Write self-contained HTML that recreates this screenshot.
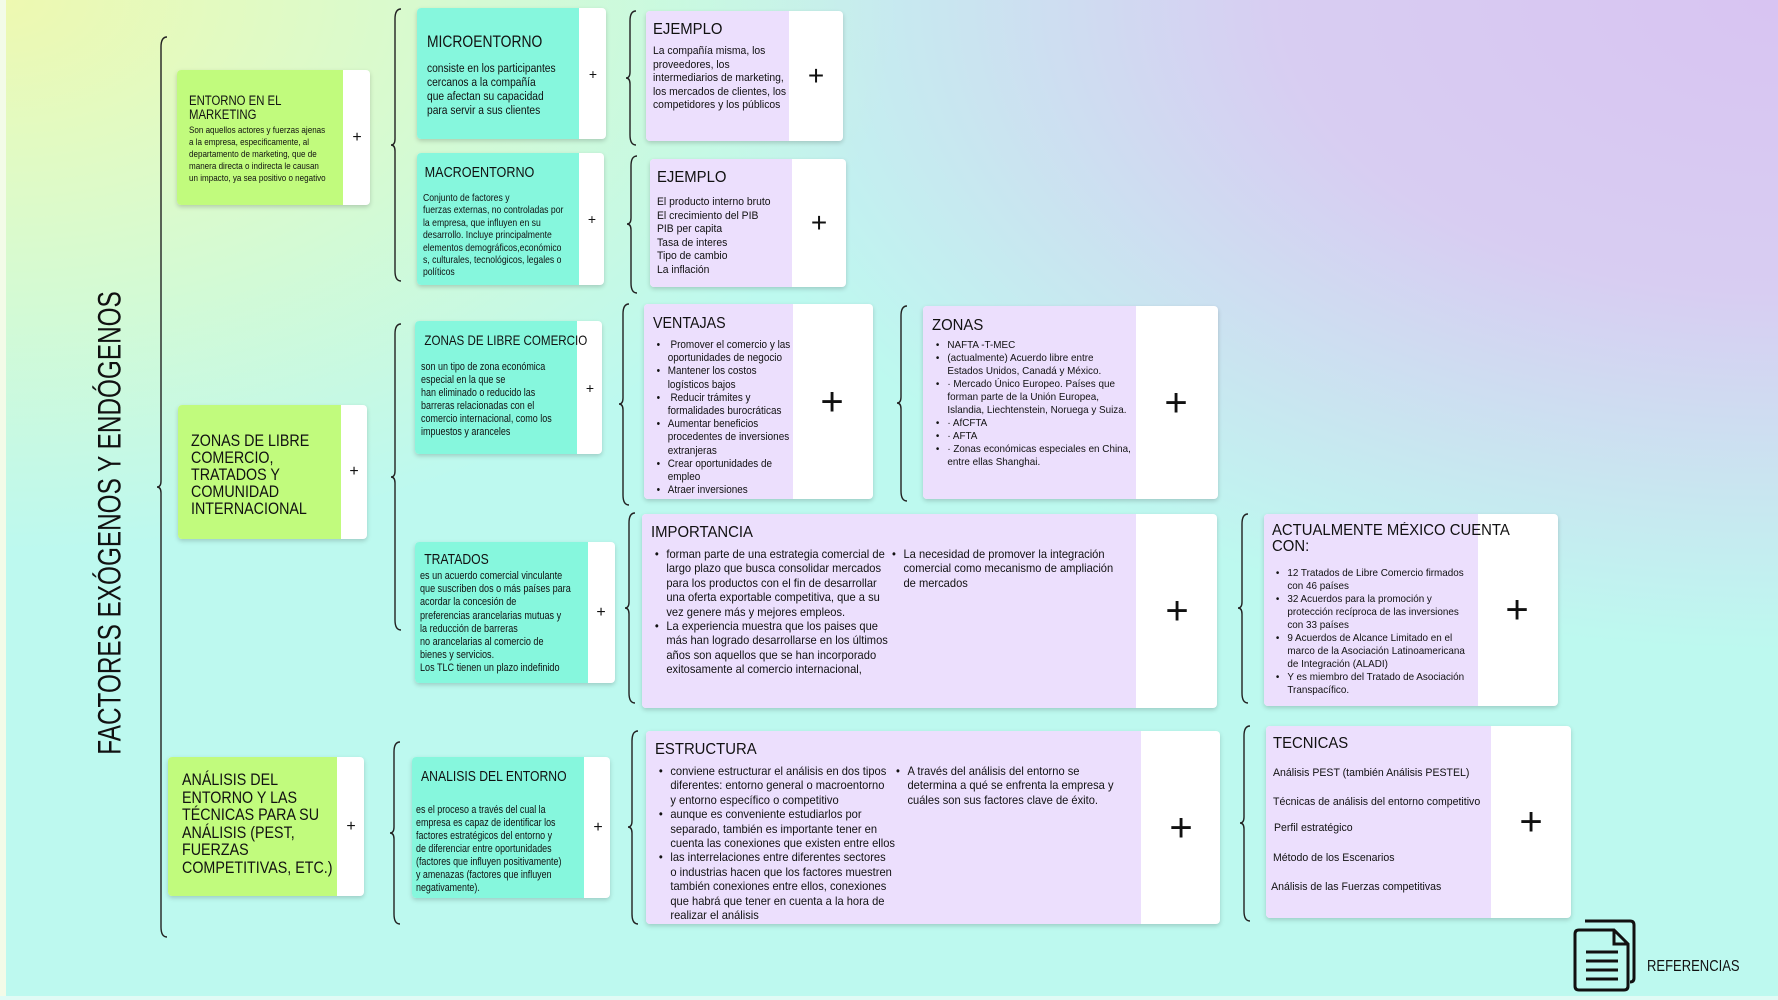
<!DOCTYPE html>
<html><head><meta charset="utf-8"><style>
*{margin:0;padding:0;box-sizing:border-box}
body{width:1778px;height:1000px;overflow:hidden;position:relative;font-family:"Liberation Sans",sans-serif;color:#111;
background:
radial-gradient(ellipse 900px 550px at 0px 0px,#eef9b0 0%,rgba(230,250,190,0.8) 35%,rgba(200,248,230,0) 100%),
radial-gradient(ellipse 1100px 650px at 1778px 0px,#d8c4f2 0%,#d8cdf2 45%,rgba(200,220,240,0) 100%),
#bdf9ef;}
.b{position:absolute;border-radius:4px;box-shadow:0 2px 5px rgba(0,0,0,0.18);background:#fff;overflow:hidden}
.c{position:absolute;left:0;top:0;bottom:0;padding:8px 8px}
.in{transform:scaleX(.84);transform-origin:0 0;width:119%}
.l .in{transform:scaleX(.96);width:104%}
.g{background:#c1fb7d}.t{background:#86f7dd}.l{background:#ecdffd}
.p{position:absolute;top:50%;transform:translate(-50%,-50%);font-family:"Liberation Sans",sans-serif;line-height:1}
.h{font-size:16px;line-height:17px;margin-bottom:6px;white-space:nowrap}
.l .h{font-size:15.5px}
ul{list-style:none}
li{position:relative;padding-left:16px}
li:before{content:"•";position:absolute;left:4px}
svg{position:absolute;left:0;top:0}
</style></head><body>
<div style="position:absolute;left:0;top:0;width:6px;height:1000px;background:#f3fbe8"></div>
<div style="position:absolute;left:0;top:996px;width:1778px;height:4px;background:#e0fbf5"></div>

<div style="position:absolute;left:110px;top:523px;transform:translate(-50%,-50%) rotate(-90deg) scaleX(0.76);white-space:nowrap;font-size:32px;color:#111">FACTORES EXÓGENOS Y ENDÓGENOS</div>

<svg width="1778" height="1000" fill="none" stroke="#222" stroke-width="1.4">
<path d="M167,37 Q161,37 161,47 L161,481 Q161,487 157,487 Q161,487 161,493 L161,927 Q161,937 167,937"/>
<path d="M401,9 Q395,9 395,19 L395,139 Q395,145 391,145 Q395,145 395,151 L395,271 Q395,281 401,281"/>
<path d="M401,324 Q395,324 395,334 L395,471 Q395,477 391,477 Q395,477 395,483 L395,620 Q395,630 401,630"/>
<path d="M400,742 Q394,742 394,752 L394,827 Q394,833 390,833 Q394,833 394,839 L394,914 Q394,924 400,924"/>
<path d="M636,11 Q630,11 630,21 L630,72 Q630,78 626,78 Q630,78 630,84 L630,135 Q630,145 636,145"/>
<path d="M637,156 Q631,156 631,166 L631,218 Q631,224 627,224 Q631,224 631,230 L631,283 Q631,293 637,293"/>
<path d="M629,304 Q623,304 623,314 L623,398 Q623,404 619,404 Q623,404 623,410 L623,495 Q623,505 629,505"/>
<path d="M635,513 Q629,513 629,523 L629,602 Q629,608 625,608 Q629,608 629,614 L629,693 Q629,703 635,703"/>
<path d="M638,731 Q632,731 632,741 L632,821 Q632,827 628,827 Q632,827 632,833 L632,914 Q632,924 638,924"/>
<path d="M907,306 Q901,306 901,316 L901,397 Q901,403 897,403 Q901,403 901,409 L901,491 Q901,501 907,501"/>
<path d="M1248,514 Q1242,514 1242,524 L1242,602 Q1242,608 1238,608 Q1242,608 1242,614 L1242,693 Q1242,703 1248,703"/>
<path d="M1250,726 Q1244,726 1244,736 L1244,817 Q1244,823 1240,823 Q1244,823 1244,829 L1244,911 Q1244,921 1250,921"/>
</svg>

<!-- level 1 -->
<div class="b" style="left:177px;top:70px;width:193px;height:135px"><div class="c g" style="width:166px;padding:24px 4px 0 12px"><div class="in">
<div style="font-size:13.5px;line-height:14px;margin-bottom:3px">ENTORNO EN EL<br>MARKETING</div>
<div style="font-size:9.6px;line-height:12px;white-space:nowrap">Son aquellos actores y fuerzas ajenas<br>a la empresa, especificamente, al<br>departamento de marketing, que de<br>manera directa o indirecta le causan<br>un impacto, ya sea positivo o negativo</div></div></div>
<div class="p" style="left:180px;font-size:16px">+</div></div>

<div class="b" style="left:178px;top:405px;width:189px;height:134px"><div class="c g" style="width:163px;padding:27px 4px 0 13px"><div class="in">
<div style="font-size:17px;line-height:17px">ZONAS DE LIBRE<br>COMERCIO,<br>TRATADOS Y<br>COMUNIDAD<br>INTERNACIONAL</div></div></div>
<div class="p" style="left:176px;font-size:16px">+</div></div>

<div class="b" style="left:168px;top:757px;width:196px;height:139px"><div class="c g" style="width:169px;padding:14px 4px 0 14px"><div class="in">
<div style="font-size:17px;line-height:17.5px">ANÁLISIS DEL<br>ENTORNO Y LAS<br>TÉCNICAS PARA SU<br>ANÁLISIS (PEST,<br>FUERZAS<br>COMPETITIVAS, ETC.)</div></div></div>
<div class="p" style="left:183px;font-size:16px">+</div></div>

<!-- level 2 -->
<div class="b" style="left:417px;top:8px;width:189px;height:131px"><div class="c t" style="width:162px;padding:26px 4px 0 10px"><div class="in">
<div class="h" style="font-size:16.5px;margin-bottom:10px">MICROENTORNO</div>
<div style="font-size:12.2px;line-height:14px;white-space:nowrap">consiste en los participantes<br>cercanos a la compañía<br>que afectan su capacidad<br>para servir a sus clientes</div></div></div>
<div class="p" style="left:176px;font-size:14px">+</div></div>

<div class="b" style="left:417px;top:153px;width:187px;height:132px"><div class="c t" style="width:162px;padding:11px 2px 0 6px"><div class="in">
<div class="h" style="font-size:15px;margin-bottom:12px;padding-left:2px">MACROENTORNO</div>
<div style="font-size:10.3px;line-height:12.4px;white-space:nowrap">Conjunto de factores y<br>fuerzas externas, no controladas por<br>la empresa, que influyen en su<br>desarrollo. Incluye principalmente<br>elementos demográficos,económico<br>s, culturales, tecnológicos, legales o<br>políticos</div></div></div>
<div class="p" style="left:175px;font-size:14px">+</div></div>

<div class="b" style="left:415px;top:321px;width:187px;height:133px"><div class="c t" style="width:162px;padding:11px 2px 0 6px"><div class="in">
<div class="h" style="font-size:13.8px;margin-bottom:12px;padding-left:4px">ZONAS DE LIBRE COMERCIO</div>
<div style="font-size:10.7px;line-height:13px;white-space:nowrap">son un tipo de zona económica<br>especial en la que se<br>han eliminado o reducido las<br>barreras relacionadas con el<br>comercio internacional, como los<br>impuestos y aranceles</div></div></div>
<div class="p" style="left:175px;font-size:14px">+</div></div>

<div class="b" style="left:415px;top:542px;width:200px;height:141px"><div class="c t" style="width:173px;padding:10px 2px 0 5px"><div class="in">
<div class="h" style="font-size:14.5px;margin-bottom:1px;padding-left:5px">TRATADOS</div>
<div style="font-size:10.8px;line-height:13.2px;white-space:nowrap">es un acuerdo comercial vinculante<br>que suscriben dos o más países para<br>acordar la concesión de<br>preferencias arancelarias mutuas y<br>la reducción de barreras<br>no arancelarias al comercio de<br>bienes y servicios.<br>Los TLC tienen un plazo indefinido</div></div></div>
<div class="p" style="left:186px;font-size:16px">+</div></div>

<div class="b" style="left:412px;top:757px;width:198px;height:141px"><div class="c t" style="width:172px;padding:12px 2px 0 4px"><div class="in">
<div class="h" style="font-size:14.5px;margin-bottom:18px;padding-left:6px">ANALISIS DEL ENTORNO</div>
<div style="font-size:10.6px;line-height:13px;white-space:nowrap">es el proceso a través del cual la<br>empresa es capaz de identificar los<br>factores estratégicos del entorno y<br>de diferenciar entre oportunidades<br>(factores que influyen positivamente)<br>y amenazas (factores que influyen<br>negativamente).</div></div></div>
<div class="p" style="left:186px;font-size:16px">+</div></div>

<!-- level 3 -->
<div class="b" style="left:646px;top:11px;width:197px;height:130px"><div class="c l" style="width:143px;padding:10px 2px 0 7px"><div class="in">
<div class="h" style="margin-bottom:7px">EJEMPLO</div>
<div style="font-size:10.8px;line-height:13.6px;white-space:nowrap">La compañía misma, los<br>proveedores, los<br>intermediarios de marketing,<br>los mercados de clientes, los<br>competidores y los públicos</div></div></div>
<div class="p" style="left:170px;font-size:28px">+</div></div>

<div class="b" style="left:650px;top:159px;width:196px;height:128px"><div class="c l" style="width:142px;padding:10px 2px 0 7px"><div class="in">
<div class="h" style="margin-bottom:10px">EJEMPLO</div>
<div style="font-size:10.8px;line-height:13.6px">El producto interno bruto<br>El crecimiento del PIB<br>PIB per capita<br>Tasa de interes<br>Tipo de cambio<br>La inflación</div></div></div>
<div class="p" style="left:169px;font-size:28px">+</div></div>

<div class="b" style="left:644px;top:304px;width:229px;height:195px"><div class="c l" style="width:149px;padding:11px 0 0 9px"><div class="in" style="transform:scaleX(.92);width:109%">
<div class="h" style="margin-bottom:7px">VENTAJAS</div>
<ul style="font-size:10.8px;line-height:13.2px;white-space:nowrap"><li>&nbsp;Promover el comercio y las<br>oportunidades de negocio</li><li>Mantener los costos<br>logísticos bajos</li><li>&nbsp;Reducir trámites y<br>formalidades burocráticas</li><li>Aumentar beneficios<br>procedentes de inversiones<br>extranjeras</li><li>Crear oportunidades de<br>empleo</li><li>Atraer inversiones</li></ul></div></div>
<div class="p" style="left:188px;font-size:40px">+</div></div>

<div class="b" style="left:923px;top:306px;width:295px;height:193px"><div class="c l" style="width:213px;padding:11px 0 0 9px"><div class="in">
<div class="h" style="margin-bottom:5px">ZONAS</div>
<ul style="font-size:10.3px;line-height:13px;white-space:nowrap"><li>NAFTA -T-MEC</li><li>(actualmente) Acuerdo libre entre<br>Estados Unidos, Canadá y México.</li><li>· Mercado Único Europeo. Países que<br>forman parte de la Unión Europea,<br>Islandia, Liechtenstein, Noruega y Suiza.</li><li>· AfCFTA</li><li>· AFTA</li><li>· Zonas económicas especiales en China,<br>entre ellas Shanghai.</li></ul></div></div>
<div class="p" style="left:253px;font-size:40px">+</div></div>

<div class="b" style="left:642px;top:514px;width:575px;height:194px"><div class="c l" style="width:494px;padding:10px 0 0 9px"><div class="in">
<div class="h" style="margin-bottom:7px">IMPORTANCIA</div>
<div style="display:flex;white-space:nowrap">
<ul style="width:247px;font-size:11.6px;line-height:14.4px"><li>forman parte de una estrategia comercial de<br>largo plazo que busca consolidar mercados<br>para los productos con el fin de desarrollar<br>una oferta exportable competitiva, que a su<br>vez genere más y mejores empleos.</li><li>La experiencia muestra que los paises que<br>más han logrado desarrollarse en los últimos<br>años son aquellos que se han incorporado<br>exitosamente al comercio internacional,</li></ul>
<ul style="width:240px;font-size:11.6px;line-height:14.4px;margin-left:0px"><li>La necesidad de promover la integración<br>comercial como mecanismo de ampliación<br>de mercados</li></ul></div></div></div>
<div class="p" style="left:535px;font-size:40px">+</div></div>

<div class="b" style="left:1264px;top:514px;width:294px;height:192px"><div class="c l" style="width:214px;padding:9px 0 0 8px"><div class="in">
<div class="h" style="line-height:16px;margin-bottom:12px">ACTUALMENTE MÉXICO CUENTA<br>CON:</div>
<ul style="font-size:10.3px;line-height:13px;white-space:nowrap"><li>12 Tratados de Libre Comercio firmados<br>con 46 países</li><li>32 Acuerdos para la promoción y<br>protección recíproca de las inversiones<br>con 33 países</li><li>9 Acuerdos de Alcance Limitado en el<br>marco de la Asociación Latinoamericana<br>de Integración (ALADI)</li><li>Y es miembro del Tratado de Asociación<br>Transpacífico.</li></ul></div></div>
<div class="p" style="left:253px;font-size:40px">+</div></div>

<div class="b" style="left:646px;top:731px;width:574px;height:193px"><div class="c l" style="width:495px;padding:10px 0 0 9px"><div class="in">
<div class="h" style="margin-bottom:7px">ESTRUCTURA</div>
<div style="display:flex;white-space:nowrap">
<ul style="width:247px;font-size:11.6px;line-height:14.4px"><li>conviene estructurar el análisis en dos tipos<br>diferentes: entorno general o macroentorno<br>y entorno específico o competitivo</li><li>aunque es conveniente estudiarlos por<br>separado, también es importante tener en<br>cuenta las conexiones que existen entre ellos</li><li>las interrelaciones entre diferentes sectores<br>o industrias hacen que los factores muestren<br>también conexiones entre ellos, conexiones<br>que habrá que tener en cuenta a la hora de<br>realizar el análisis</li></ul>
<ul style="width:240px;font-size:11.6px;line-height:14.4px;margin-left:0px"><li>A través del análisis del entorno se<br>determina a qué se enfrenta la empresa y<br>cuáles son sus factores clave de éxito.</li></ul></div></div></div>
<div class="p" style="left:535px;font-size:40px">+</div></div>

<div class="b" style="left:1266px;top:726px;width:305px;height:192px"><div class="c l" style="width:225px;padding:9px 0 0 7px"><div class="in">
<div class="h" style="margin-bottom:15px">TECNICAS</div>
<div style="font-size:11px;line-height:13px;white-space:nowrap">
<div style="height:29px">Análisis PEST (también Análisis PESTEL)</div>
<div style="height:26px">Técnicas de análisis del entorno competitivo</div>
<div style="height:30px;padding-left:1px">Perfil estratégico</div>
<div style="height:29px">Método de los Escenarios</div>
<div style="margin-left:-2px">Análisis de las Fuerzas competitivas</div></div></div></div>
<div class="p" style="left:265px;font-size:40px">+</div></div>

<!-- referencias -->
<svg width="1778" height="1000" fill="none" stroke="#111" stroke-width="3" style="pointer-events:none">
<path d="M1585,921 L1630,921 Q1634,921 1634,925 L1634,978 Q1634,982 1630,982"/>
<path d="M1579,930 L1614,930 L1628,944 L1628,986 Q1628,990 1624,990 L1579,990 Q1575,990 1575,986 L1575,934 Q1575,930 1579,930 Z" fill="#bdf9ef"/>
<path d="M1614,930 L1614,944 L1628,944"/>
<path d="M1586,952 L1618,952 M1586,961 L1618,961 M1586,970 L1618,970 M1586,979 L1618,979"/>
</svg>
<div style="position:absolute;left:1647px;top:959px;font-size:15.5px;line-height:16px;transform:scaleX(.84);transform-origin:0 0">REFERENCIAS</div>
</body></html>
